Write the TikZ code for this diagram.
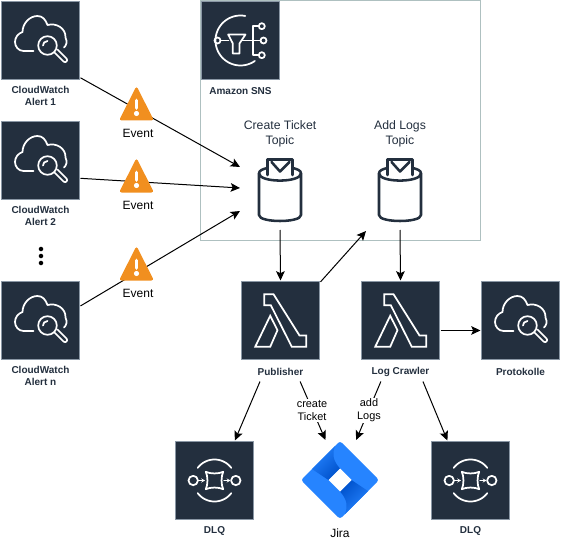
\documentclass[tikz,border=0pt]{standalone}
\usepackage{fontspec}
\setmainfont{Liberation Sans}
\usetikzlibrary{arrows.meta,positioning,calc}

\definecolor{awsdark}{HTML}{232F3E}
\definecolor{awsedge}{HTML}{8A97A5}
\definecolor{groupedge}{HTML}{AEC0C0}
\definecolor{warnorange}{HTML}{F18F1F}
\definecolor{jiralight}{HTML}{2684FF}
\definecolor{jiradark}{HTML}{0052CC}

\begin{document}
\begin{tikzpicture}[
  x=0.75pt, y=-0.75pt,
  iconbox/.style={draw=awsedge, line width=0.75pt, fill=awsdark, minimum size=58.5pt,
                  inner sep=0pt, outer sep=0.75pt},
  spacer/.style={minimum size=60pt, inner sep=0pt, outer sep=0pt},
  grp/.style={draw=groupedge, line width=0.75pt, minimum width=210pt, minimum height=180pt,
              inner sep=0pt, outer sep=0pt},
  lbl/.style={font=\fontsize{7.5}{9}\selectfont\bfseries, text=awsdark, align=center,
              inner sep=0pt, minimum width=60pt, minimum height=15pt, outer sep=0pt},
  topiclbl/.style={font=\fontsize{9.2}{11.6}\selectfont, text=awsdark, align=center, inner sep=0pt},
  plain/.style={font=\fontsize{9}{11}\selectfont, align=center, inner sep=0pt},
  edgelbl/.style={font=\fontsize{8.2}{9.8}\selectfont, align=center, fill=white, inner sep=1pt},
  flow/.style={draw=black, line width=0.75pt, -{Stealth[length=7pt, width=6.5pt, inset=1.5pt]}},
  icon/.style={draw=white, line width=1.3pt, line join=round, line cap=round},
  topicline/.style={draw=awsdark, line width=1.9pt, line join=round, line cap=round},
  cloudicon/.pic={
    \draw[icon] (-7,10.5) -- (-17,10.5) .. controls (-22,10.5) and (-25.5,6) .. (-25.5,1.5)
      .. controls (-25.5,-3) and (-22.5,-7) .. (-18,-8.5)
      .. controls (-18,-17) and (-11,-24.5) .. (-3,-24.5)
      .. controls (2,-24.5) and (5,-21) .. (7,-15.5)
      .. controls (16,-18) and (25.5,-12) .. (25,-3)
      .. controls (27,1) and (26,5) .. (23.5,7);
    \draw[icon] (7,5) circle[radius=9.3];
    \draw[icon] (7,0.5) .. controls (4,0.5) and (2.5,3) .. (2.5,5);
    \draw[icon] (14,12) -- (23,21) .. controls (25,23) and (28,20) .. (26,18) -- (17,9);
  },
  lambdaicon/.pic={
    \draw[icon, line join=miter] (-16.3,-26.3) -- (-7,-26.3) -- (19,15) -- (25.7,15) -- (25.7,26.3)
      -- (11.3,26.3) -- (-9.7,-15.3) -- (-16.3,-15.3) -- cycle;
    \draw[icon, line join=miter] (-10.3,-4.7) -- (-25.3,26.3) -- (-10.3,26.3) -- (-3,9.7) -- cycle;
  },
  snsicon/.pic={
    \draw[icon] plot[domain=-305:-79, samples=50] ({25*cos(\x)},{25*sin(\x)});
    \draw[icon] (-23,0) circle[radius=3];
    \draw[icon] (-20,0) -- (-12,0);
    \draw[icon] (-12.3,-6) -- (5,-6) -- (-1,3) -- (-1,13) -- (-7.7,13) -- (-7.7,3) -- cycle;
    \draw[icon] (1,0) -- (20,0);
    \draw[icon] (18.3,-14.3) -- (12.3,-14.3) -- (12.3,14.7) -- (18.3,14.7);
    \draw[icon] (21.3,-14.3) circle[radius=3];
    \draw[icon] (23,0) circle[radius=3];
    \draw[icon] (21.3,14.7) circle[radius=3];
  },
  dlqicon/.pic={
    \draw[icon] plot[domain=-143:-37, samples=30] ({21*cos(\x)},{21*sin(\x)});
    \draw[icon] plot[domain=37:143, samples=30] ({21*cos(\x)},{21*sin(\x)});
    \draw[icon] (-21.3,0) circle[radius=4.7];
    \draw[icon] (21.3,0) circle[radius=4.7];
    \draw[icon, line width=0.9pt, -{Stealth[length=2.8pt, width=3pt]}] (-16,0) -- (-9.5,0);
    \draw[icon, line width=0.9pt, -{Stealth[length=2.8pt, width=3pt]}] (9.5,0) -- (16,0);
    \draw[icon] (-8.7,-8.7) .. controls (-4,-6.5) and (4,-6.5) .. (8.7,-8.7)
      .. controls (6.5,-4) and (6.5,4) .. (8.7,8.7)
      .. controls (4,6.5) and (-4,6.5) .. (-8.7,8.7)
      .. controls (-6.5,4) and (-6.5,-4) .. (-8.7,-8.7) -- cycle;
  },
  topicicon/.pic={
    \draw[topicline] (-21,-16.7) -- (-21,25) .. controls (-21,33) and (21,33) .. (21,25) -- (21,-16.7);
    \draw[topicline] (-12.7,-22) .. controls (-17,-21) and (-21,-19.5) .. (-21,-16.7)
      .. controls (-21,-7) and (21,-7) .. (21,-16.7)
      .. controls (21,-19.5) and (17,-21) .. (12.7,-22);
    \draw[topicline] (-12.7,-15) -- (-12.7,-30.5) -- (12.7,-30.5) -- (12.7,-15);
    \draw[topicline] (-8.5,-28) -- (0,-18.5) -- (9.5,-28);
  },
  warnicon/.pic={
    \fill[warnorange, rounded corners=2pt] (0,-18) -- (17.5,16.5) -- (-17.5,16.5) -- cycle;
    \draw[white, line width=2.8pt, line cap=round] (0,-3.5) -- (0,4);
    \fill[white] (0,9.5) circle[radius=2.6];
  },
  jiraicon/.pic={
    \fill[jiralight, rounded corners=2pt] (0,-39) -- (39,0) -- (0,39) -- (-39,0) -- cycle;
    \shade[left color=jiralight, middle color=jiralight, right color=jiradark, shading angle=45]
      (-5,-34) .. controls (-8,-26) and (-7,-19) .. (0,-11.5) -- (-11.5,0) -- (-28,-11) -- cycle;
    \shade[left color=jiradark, middle color=jiralight, right color=jiralight, shading angle=45]
      (5,34) .. controls (8,26) and (7,19) .. (0,11.5) -- (11.5,0) -- (28,11) -- cycle;
    \fill[white] (0,-11.5) -- (11.5,0) -- (0,11.5) -- (-11.5,0) -- cycle;
  }
]
\useasboundingbox (0,0) rectangle (561,542);

% sns group
\node[grp] (snsgroup) at (340,120.5) {};

% alerts
\node[iconbox] (cwa) at (40.5,40.5) {};
\node[iconbox] (cwb) at (40.5,160.5) {};
\node[iconbox] (cwn) at (40.5,320.5) {};
\node[lbl] (cwalbl) at (40.5,95.5) {CloudWatch\\Alert 1};
\node[lbl] (cwblbl) at (40.5,215.5) {CloudWatch\\Alert 2};
\node[lbl] (cwnlbl) at (40.5,375.5) {CloudWatch\\Alert n};
\node[circle, fill=black, inner sep=0pt, minimum size=3.4pt] (dota) at (41,249) {};
\node[circle, fill=black, inner sep=0pt, minimum size=3.4pt] (dotb) at (41,256) {};
\node[circle, fill=black, inner sep=0pt, minimum size=3.4pt] (dotc) at (41,263) {};

% sns and topics
\node[iconbox] (sns) at (240.5,40.5) {};
\node[lbl, fill=white] (snslbl) at (240.5,91) {Amazon SNS};
\node[spacer] (topica) at (280,190) {};
\node[spacer] (topicb) at (400,190) {};
\node[topiclbl] (topicalbl) at (280,134) {Create Ticket\\Topic};
\node[topiclbl] (topicblbl) at (400,134) {Add Logs\\Topic};
\coordinate (ina) at (240,167);
\coordinate (inb) at (240,188);
\coordinate (inc) at (240,211);
\coordinate (addin) at (366,231);

% lambdas and logs
\node[iconbox] (publisher) at (280.5,320.5) {};
\node[iconbox] (crawler) at (400.5,320.5) {};
\node[iconbox] (protokolle) at (520.5,320.5) {};
\node[lbl] (publisherlbl) at (280.5,371.5) {Publisher};
\node[lbl] (crawlerlbl) at (400.5,371.5) {Log Crawler};
\node[lbl] (protokollelbl) at (520.5,371.5) {Protokolle};

% bottom row
\node[iconbox] (dlqa) at (214.5,480.5) {};
\node[iconbox] (dlqb) at (470.5,480.5) {};
\node[spacer] (jira) at (340,480) {};
\node[lbl] (dlqalbl) at (214.5,531) {DLQ};
\node[lbl] (dlqblbl) at (470.5,531) {DLQ};
\node[plain] (jiralbl) at (340,533) {Jira};

% connectors
\draw[flow] (cwa.-43) -- (ina);
\draw[flow] (cwb.-24) -- (inb);
\draw[flow] (cwn.20) -- (inc);
\draw[flow] (topica.south) -- (publisher.north);
\draw[flow] (publisher.44) -- (addin);
\draw[flow] (topicb.south) -- (crawler.north);
\draw[flow] (crawler.-14) -- (protokolle.194);
\draw[flow] (publisherlbl.-154) -- (dlqa.63);
\draw[flow] (publisherlbl.-27) -- (jira.110);
\draw[flow] (crawlerlbl.-153) -- (jira.68);
\draw[flow] (crawlerlbl.-24) -- (dlqb.120);
\node[edgelbl] (ticketlbl) at (312,410.5) {create\\Ticket};
\node[edgelbl] (logslbl) at (369,410.5) {add\\Logs};

% icons
\pic at (cwa) {cloudicon};
\pic at (cwb) {cloudicon};
\pic at (cwn) {cloudicon};
\pic at (protokolle) {cloudicon};
\pic at (sns) {snsicon};
\pic at (publisher) {lambdaicon};
\pic at (crawler) {lambdaicon};
\pic at (dlqa) {dlqicon};
\pic at (dlqb) {dlqicon};
\pic at (topica) {topicicon};
\pic at (topicb) {topicicon};
\pic at (jira) {jiraicon};

% events
\pic at (136.5,104) {warnicon};
\pic at (136.5,176) {warnicon};
\pic at (136.5,264) {warnicon};
\node[plain] (eventa) at (138,133.5) {Event};
\node[plain] (eventb) at (138,205.5) {Event};
\node[plain] (eventc) at (138,293.5) {Event};
\end{tikzpicture}
\end{document}
